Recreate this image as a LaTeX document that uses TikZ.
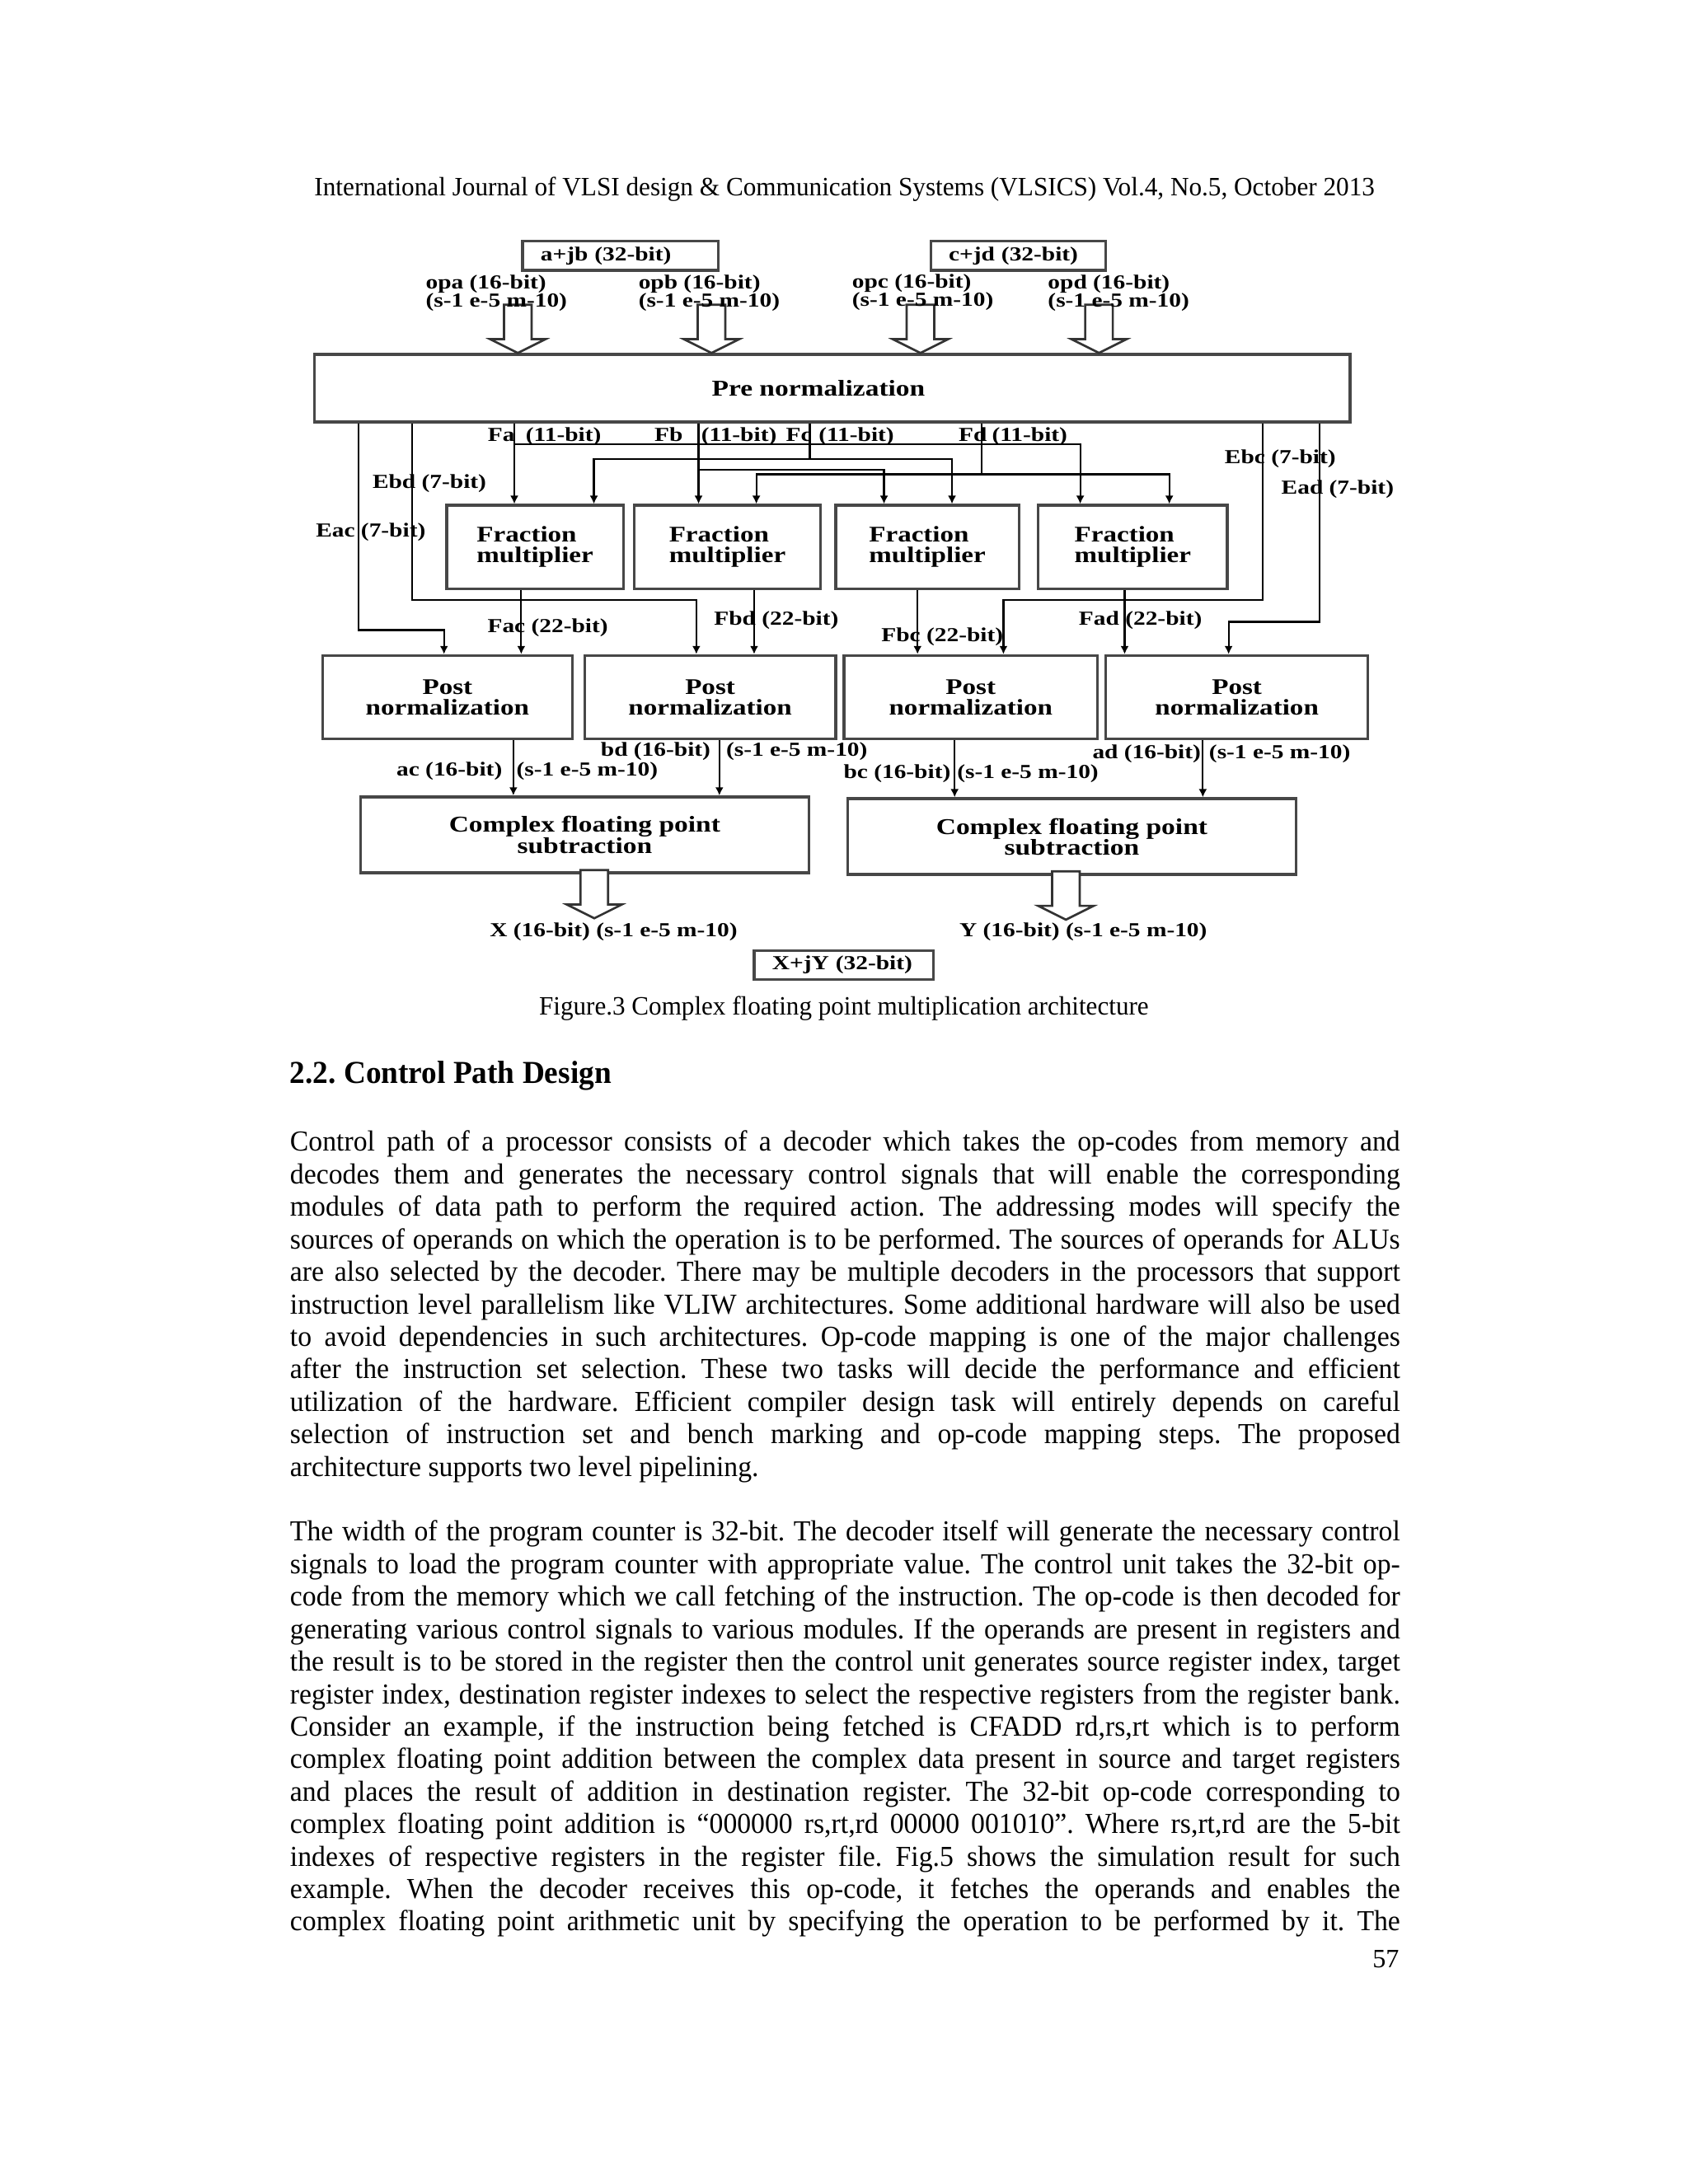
\documentclass[tikz,border=0pt]{standalone}
\usepackage{fontspec}
\usepackage{graphicx}
\setmainfont{Liberation Serif}
\newfontfamily\bodyfont[FakeStretch=0.96]{Liberation Serif}
\newfontfamily\figfont[FakeStretch=1.22]{Liberation Serif}
\usetikzlibrary{arrows.meta,calc}
\lineskiplimit=-10pt
\frenchspacing
\newsavebox\fitbox
\newlength\fitlen
\newlength\bodyw
\setlength\bodyw{402.5pt}
\newcommand\fitw[2]{\sbox\fitbox{#2}\fitlen=\wd\fitbox\pgfmathsetmacro\fitf{#1/\the\fitlen}\scalebox{\fitf}[1]{\usebox\fitbox}}
\newcommand\jline[1]{\sbox\fitbox{#1}\ifdim\wd\fitbox>\bodyw\fitlen=\wd\fitbox\pgfmathsetmacro\fitf{\the\bodyw/\the\fitlen}\scalebox{\fitf}[1]{\usebox\fitbox}\else\makebox[\bodyw][s]{#1}\fi}
\newcommand\harrow[2]{\draw[hollow] (#1) -- ++(-20,-10) -- ++(10,0) -- ++(0,-#2+10) -- ++(20,0) -- ++(0,#2-10) -- ++(10,0) -- cycle;}
\begin{document}
\begin{tikzpicture}[x=0.5pt,y=-0.5pt,
  box/.style={draw=black!72,line width=1pt,inner sep=0pt,align=center,font={\figfont\bfseries\fontsize{8.1}{7.5}\selectfont}},
  tbox/.style={draw=black!72,line width=1pt,inner xsep=6.5pt,inner ysep=0pt,minimum height=10.5pt,align=left,font={\figfont\bfseries\fontsize{7.2}{6.5}\selectfont}},
  lbl/.style={inner sep=0pt,anchor=west,align=left,font={\figfont\bfseries\fontsize{7.2}{6.5}\selectfont}},
  wire/.style={line width=0.65pt,black},
  arr/.style={wire,-{Latex[length=3pt,width=3pt]}},
  hollow/.style={draw=black!80,line width=0.8pt,fill=white},
  body/.style={anchor=base west,inner sep=0pt,font={\bodyfont\fontsize{10.5}{11.78}\selectfont}}]
\fill[white] (0,0) rectangle (1224,1584);
\useasboundingbox (0,0) rectangle (1224,1584);

% header
\node[anchor=base,inner sep=0pt,font={\fontsize{9.6}{11}\selectfont}] (hdr) at (612.5,142)
  {\fitw{384.5pt}{International Journal of VLSI design \& Communication Systems (VLSICS) Vol.4, No.5, October 2013}};

% ---------- figure ----------
\node[tbox,text width=58pt] (ajb) at (450,185.5) {a+jb (32-bit)};
\node[tbox,text width=50.5pt] (cjd) at (738.5,185.5) {c+jd (32-bit)};

\node[box,minimum width=375.5pt,minimum height=24.5pt,font={\figfont\bfseries\fontsize{8.2}{7.5}\selectfont}] (pre) at (603.5,281.5) {Pre normalization\hspace*{10pt}};

\node[box,minimum width=64pt,minimum height=30.25pt,align=left] (fm1) at (388,396.75) {Fraction\\multiplier};
\node[box,minimum width=67.5pt,minimum height=30.25pt,align=left] (fm2) at (527.5,396.75) {Fraction\\multiplier};
\node[box,minimum width=66.5pt,minimum height=30.25pt,align=left] (fm3) at (672.5,396.75) {Fraction\\multiplier};
\node[box,minimum width=68.5pt,minimum height=30.25pt,align=left] (fm4) at (821.5,396.75) {Fraction\\multiplier};

\node[box,minimum width=90.5pt,minimum height=30.25pt] (pn1) at (324.5,505.75) {Post\\normalization};
\node[box,minimum width=91pt,minimum height=30.25pt] (pn2) at (515,505.75) {Post\\normalization};
\node[box,minimum width=92pt,minimum height=30.25pt] (pn3) at (704,505.75) {Post\\normalization};
\node[box,minimum width=95pt,minimum height=30.25pt] (pn4) at (897,505.75) {Post\\normalization};

\node[box,minimum width=162.5pt,minimum height=27.5pt,font={\figfont\bfseries\fontsize{8.2}{7.5}\selectfont}] (cs1) at (424,605.5) {Complex floating point\\subtraction};
\node[box,minimum width=162.7pt,minimum height=27.5pt,font={\figfont\bfseries\fontsize{8.2}{7.5}\selectfont}] (cs2) at (777.3,606.75) {Complex floating point\\subtraction};

\node[tbox,text width=52pt] (xjy) at (612,700) {X+jY (32-bit)};

% wire x positions and rows
\coordinate (xEac) at (259.8,0);
\coordinate (xEbd) at (298.9,0);
\coordinate (xFa) at (373,0);
\coordinate (xFb) at (506.6,0);
\coordinate (xFc) at (587.3,0);
\coordinate (xFd) at (711.9,0);
\coordinate (xEbc) at (915.9,0);
\coordinate (xEad) at (957,0);
\coordinate (xFaR) at (783.4,0);
\coordinate (xFbR) at (641.1,0);
\coordinate (xFcL) at (430.7,0);
\coordinate (xFcR) at (690.4,0);
\coordinate (xFdL) at (548.5,0);
\coordinate (xFdR) at (848,0);
\coordinate (xEacD) at (322,0);
\coordinate (xEbdD) at (505,0);
\coordinate (xEbcD) at (727.7,0);
\coordinate (xEadD) at (891,0);
\coordinate (xM1) at (378,0);
\coordinate (xM2) at (546.9,0);
\coordinate (xM3) at (665.4,0);
\coordinate (xM4) at (815.6,0);
\coordinate (xP1) at (372.3,0);
\coordinate (xP2) at (521.7,0);
\coordinate (xP3) at (692.3,0);
\coordinate (xP4) at (872.3,0);
\coordinate (yFa) at (0,322);
\coordinate (yFc) at (0,333);
\coordinate (yFb) at (0,340.5);
\coordinate (yFd) at (0,344);
\coordinate (yEbd) at (0,435);
\coordinate (yEbc) at (0,435);
\coordinate (yEad) at (0,451);
\coordinate (yEac) at (0,457);
\coordinate (xA) at (375.5,0);
\coordinate (xB) at (516,0);
\coordinate (xC) at (667.5,0);
\coordinate (xD) at (797,0);
\coordinate (tipX) at (431,666);
\coordinate (tipY) at (773,667);

% hollow arrows
\harrow{pre.north -| xA}{35}
\harrow{pre.north -| xB}{35}
\harrow{pre.north -| xC}{35}
\harrow{pre.north -| xD}{35}
\harrow{tipX}{35}
\harrow{tipY}{35}

% F wires
\draw[arr] (pre.south -| xFa) -- (fm1.north -| xFa);
\draw[arr] (xFa |- yFa) -| (fm4.north -| xFaR);
\draw[arr] (pre.south -| xFb) -- (fm2.north -| xFb);
\draw[arr] (xFb |- yFb) -| (fm3.north -| xFbR);
\draw[wire] (pre.south -| xFc) -- (xFc |- yFc);
\draw[arr] (xFc |- yFc) -| (fm1.north -| xFcL);
\draw[arr] (xFc |- yFc) -| (fm3.north -| xFcR);
\draw[wire] (pre.south -| xFd) -- (xFd |- yFd);
\draw[arr] (xFd |- yFd) -| (fm2.north -| xFdL);
\draw[arr] (xFd |- yFd) -| (fm4.north -| xFdR);
% exponent wires
\draw[arr] (pre.south -| xEac) |- (xEacD |- yEac) -- (pn1.north -| xEacD);
\draw[arr] (pre.south -| xEbd) |- (xEbdD |- yEbd) -- (pn2.north -| xEbdD);
\draw[arr] (pre.south -| xEbc) |- (xEbcD |- yEbc) -- (pn3.north -| xEbcD);
\draw[arr] (pre.south -| xEad) |- (xEadD |- yEad) -- (pn4.north -| xEadD);
% multiplier outputs
\draw[arr] (fm1.south -| xM1) -- (pn1.north -| xM1);
\draw[arr] (fm2.south -| xM2) -- (pn2.north -| xM2);
\draw[arr] (fm3.south -| xM3) -- (pn3.north -| xM3);
\draw[arr] (fm4.south -| xM4) -- (pn4.north -| xM4);
% post normalization outputs
\draw[arr] (pn1.south -| xP1) -- (cs1.north -| xP1);
\draw[arr] (pn2.south -| xP2) -- (cs1.north -| xP2);
\draw[arr] (pn3.south -| xP3) -- (cs2.north -| xP3);
\draw[arr] (pn4.south -| xP4) -- (cs2.north -| xP4);

% labels
\node[lbl] (lopa) at (308.4,212.5) {opa (16-bit)\\(s-1 e-5 m-10)};
\node[lbl] (lopb) at (462.7,212.5) {opb (16-bit)\\(s-1 e-5 m-10)};
\node[lbl] (lopc) at (617.6,212) {opc (16-bit)\\(s-1 e-5 m-10)};
\node[lbl] (lopd) at (759.6,212.5) {opd (16-bit)\\(s-1 e-5 m-10)};
\node[lbl] (lFa) at (353.4,316.5) {Fa\hspace{4pt}(11-bit)};
\node[lbl] (lFb) at (474.3,316.5) {Fb\hspace{6.7pt}(11-bit)};
\node[lbl] (lFc) at (569.6,316.5) {Fc\hspace{2.6pt}(11-bit)};
\node[lbl] (lFd) at (694.9,316.5) {Fd\hspace{1.8pt}(11-bit)};
\node[lbl] (lEac) at (228.7,386) {Eac (7-bit)};
\node[lbl] (lEbd) at (269.8,350.5) {Ebd (7-bit)};
\node[lbl] (lEbc) at (887.8,333) {Ebc (7-bit)};
\node[lbl] (lEad) at (928.9,355) {Ead (7-bit)};
\node[lbl] (lFac) at (353.2,455) {Fac (22-bit)};
\node[lbl] (lFbd) at (517.5,450) {Fbd (22-bit)};
\node[lbl] (lFbc) at (638.8,462) {Fbc (22-bit)};
\node[lbl] (lFad) at (782,450) {Fad (22-bit)};
\node[lbl] (lac) at (287.2,559.5) {ac (16-bit)\hspace{5.2pt}(s-1 e-5 m-10)};
\node[lbl] (lbd) at (435.3,545) {bd (16-bit)\hspace{5.7pt}(s-1 e-5 m-10)};
\node[lbl] (lbc) at (611.4,561) {bc (16-bit)\hspace{2.4pt}(s-1 e-5 m-10)};
\node[lbl] (lad) at (791.9,546.5) {ad (16-bit)\hspace{3pt}(s-1 e-5 m-10)};
\node[lbl,anchor=center] (lX) at (445,676) {X (16-bit) (s-1 e-5 m-10)};
\node[lbl,anchor=center] (lY) at (785.6,676) {Y (16-bit) (s-1 e-5 m-10)};

% caption and heading
\node[anchor=base,inner sep=0pt,font={\fontsize{9.6}{11}\selectfont}] (cap) at (612,736)
  {\fitw{221pt}{Figure.3 Complex floating point multiplication architecture}};
\node[anchor=base west,inner sep=0pt,font={\bfseries\fontsize{11.6}{13}\selectfont}] (sec) at (210,786)
  {\fitw{116.5pt}{2.2. Control Path Design}};

% body text
\foreach \t [count=\i from 0] in {
 {Control path of a processor consists of a decoder which takes the op-codes from memory and},
 {decodes them and generates the necessary control signals that will enable the corresponding},
 {modules of data path to perform the required action. The addressing modes will specify the},
 {sources of operands on which the operation is to be performed. The sources of operands for ALUs},
 {are also selected by the decoder. There may be multiple decoders in the processors that support},
 {instruction level parallelism like VLIW architectures. Some additional hardware will also be used},
 {to avoid dependencies in such architectures. Op-code mapping is one of the major challenges},
 {after the instruction set selection. These two tasks will decide the performance and efficient},
 {utilization of the hardware. Efficient compiler design task will entirely depends on careful},
 {selection of instruction set and bench marking and op-code mapping steps. The proposed}}
 {\node[body] (pa\i) at (210,835+\i*23.56) {\jline{\t}};}
\node[body] (pa10) at (210,835+10*23.56) {architecture supports two level pipelining.};
\foreach \t [count=\i from 0] in {
 {The width of the program counter is 32-bit. The decoder itself will generate the necessary control},
 {signals to load the program counter with appropriate value. The control unit takes the 32-bit op-},
 {code from the memory which we call fetching of the instruction. The op-code is then decoded for},
 {generating various control signals to various modules. If the operands are present in registers and},
 {the result is to be stored in the register then the control unit generates source register index, target},
 {register index, destination register indexes to select the respective registers from the register bank.},
 {Consider an example, if the instruction being fetched is CFADD rd,rs,rt which is to perform},
 {complex floating point addition between the complex data present in source and target registers},
 {and places the result of addition in destination register. The 32-bit op-code corresponding to},
 {complex floating point addition is “000000 rs,rt,rd 00000 001010”. Where rs,rt,rd are the 5-bit},
 {indexes of respective registers in the register file. Fig.5 shows the simulation result for such},
 {example. When the decoder receives this op-code, it fetches the operands and enables the},
 {complex floating point arithmetic unit by specifying the operation to be performed by it. The}}
 {\node[body] (pb\i) at (210,835+12*23.56+\i*23.56) {\jline{\t}};}
\node[anchor=base east,inner sep=0pt,font={\fontsize{9.6}{11}\selectfont}] (pgno) at (1015,1427) {57};
\end{tikzpicture}
\end{document}
